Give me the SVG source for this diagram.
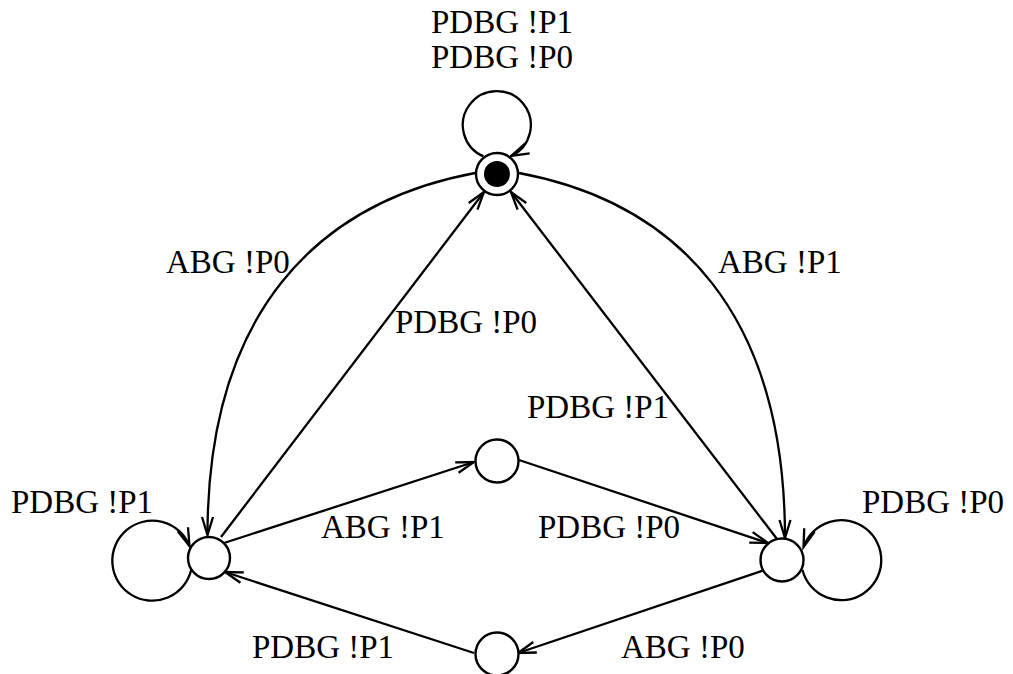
<svg xmlns="http://www.w3.org/2000/svg" width="1013" height="674" viewBox="0 0 1013 674">
<style>
.n{fill:#fff;stroke:#000;stroke-width:2.4}
.e{fill:none;stroke:#000;stroke-width:2.3;marker-end:url(#a)}
text{font-family:"Liberation Serif","Times New Roman",serif;font-size:33px;fill:#000}
</style>
<defs>
<marker id="a" markerUnits="userSpaceOnUse" viewBox="-20 -7 22 14" refX="0" refY="0" markerWidth="22" markerHeight="14" orient="auto" overflow="visible">
<path d="M-18,-5.5 L0,0 L-18,5.5" fill="none" stroke="#000" stroke-width="2.3"/>
</marker>
</defs>
<rect width="1013" height="674" fill="#fff"/>
<g id="connectors">
<path class="e" d="M483.5,156.4 A34,34 0 1 1 511,156"/>
<path class="e" d="M475,173 C315,203 207.5,315 207.5,535"/>
<path class="e" d="M519,173 C679,203 785,315 785,538"/>
<path class="e" d="M221,537 L484,192"/>
<path class="e" d="M777,539 L511,192"/>
<path class="e" d="M224,543 L474,462"/>
<path class="e" d="M519,460 L768,543"/>
<path class="e" d="M765,570 L518,653"/>
<path class="e" d="M474,653 L225,572"/>
<path class="e" d="M191.3,569.6 A40,40 0 1 1 189.5,546"/>
<path class="e" d="M802.5,570 A40,40 0 1 0 803.5,547"/>
</g>
<g id="labels">
<text x="431" y="33">PDBG !P1</text>
<text x="431" y="68">PDBG !P0</text>
<text x="166" y="273">ABG !P0</text>
<text x="718" y="273">ABG !P1</text>
<text x="395" y="333">PDBG !P0</text>
<text x="527" y="418">PDBG !P1</text>
<text x="11" y="513">PDBG !P1</text>
<text x="862" y="513">PDBG !P0</text>
<text x="321" y="538">ABG !P1</text>
<text x="538" y="538">PDBG !P0</text>
<text x="252" y="658">PDBG !P1</text>
<text x="621" y="658">ABG !P0</text>
</g>
<g id="node-top">
<circle class="n" cx="497" cy="174" r="21"/>
<circle cx="497" cy="174" r="13" fill="#000"/>
</g>
<g id="node-left"><circle class="n" cx="209" cy="558" r="21"/></g>
<g id="node-middle"><circle class="n" cx="497" cy="461" r="21.5"/></g>
<g id="node-right"><circle class="n" cx="782" cy="560" r="21.5"/></g>
<g id="node-bottom"><circle class="n" cx="497" cy="654" r="21.5"/></g>
</svg>
